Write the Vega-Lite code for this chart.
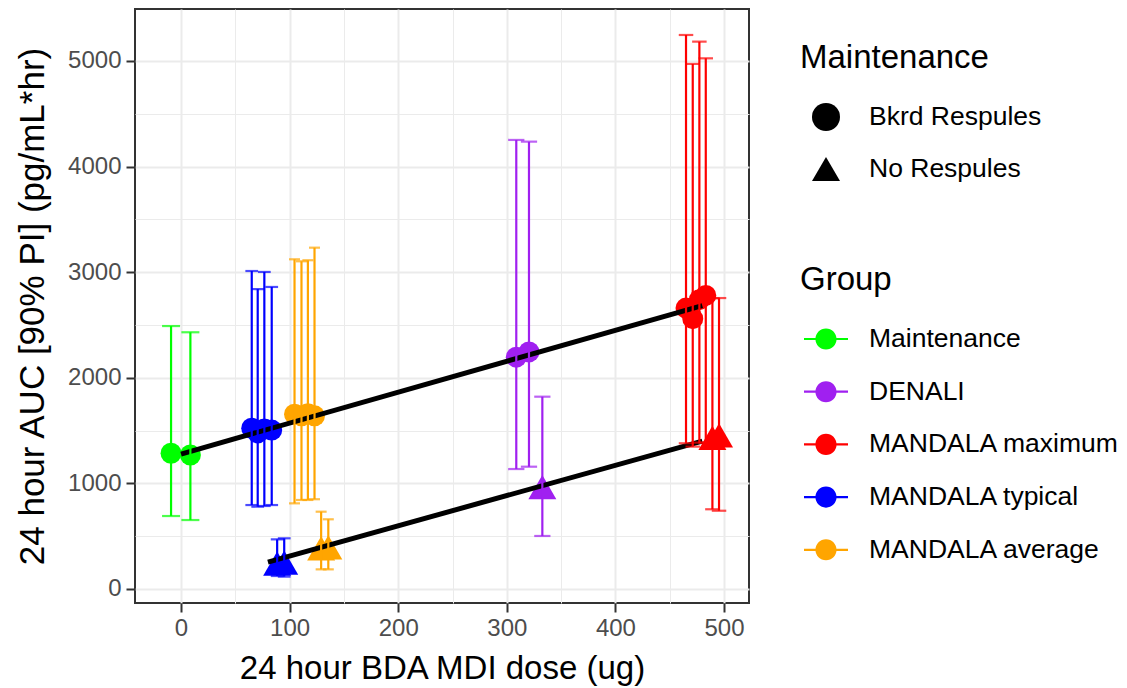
{
  "$schema": "https://vega.github.io/schema/vega-lite/v6.json",
  "width": 614,
  "height": 594,
  "autosize": "none",
  "padding": {"left": 135, "top": 9, "right": 378, "bottom": 85},
  "background": "white",
  "config": {
    "font": "Liberation Sans",
    "view": {"stroke": "#333333", "strokeWidth": 2},
    "axis": {
      "domain": false,
      "grid": true,
      "gridColor": "#EBEBEB",
      "tickColor": "#333333",
      "tickWidth": 2,
      "tickSize": 9,
      "labelColor": "#4D4D4D",
      "labelFontSize": 24,
      "titleFontWeight": "normal",
      "titleColor": "black"
    },
    "legend": {
      "titleFontSize": 33,
      "titleFontWeight": "normal",
      "titleColor": "black",
      "titleLimit": 0,
      "labelFontSize": 26.5,
      "labelColor": "black",
      "labelLimit": 0,
      "padding": 0
    }
  },
  "datasets": {
    "pts": [
      {"group": "Maintenance", "maint": "Bkrd Respules", "dose": -9.2, "auc": 1285, "lo": 691, "hi": 2490},
      {"group": "Maintenance", "maint": "Bkrd Respules", "dose": 8.6, "auc": 1269, "lo": 653, "hi": 2431},
      {"group": "MANDALA typical", "maint": "Bkrd Respules", "dose": 65.1, "auc": 1522, "lo": 795, "hi": 3011},
      {"group": "MANDALA typical", "maint": "Bkrd Respules", "dose": 70.6, "auc": 1478, "lo": 779, "hi": 2840},
      {"group": "MANDALA typical", "maint": "Bkrd Respules", "dose": 76.7, "auc": 1515, "lo": 786, "hi": 3002},
      {"group": "MANDALA typical", "maint": "Bkrd Respules", "dose": 83.5, "auc": 1505, "lo": 795, "hi": 2860},
      {"group": "MANDALA typical", "maint": "No Respules", "dose": 88.5, "auc": 240, "lo": 123, "hi": 470},
      {"group": "MANDALA typical", "maint": "No Respules", "dose": 95.0, "auc": 250, "lo": 117, "hi": 480},
      {"group": "MANDALA average", "maint": "Bkrd Respules", "dose": 104.5, "auc": 1655, "lo": 811, "hi": 3122},
      {"group": "MANDALA average", "maint": "Bkrd Respules", "dose": 110.9, "auc": 1640, "lo": 843, "hi": 3103},
      {"group": "MANDALA average", "maint": "Bkrd Respules", "dose": 116.8, "auc": 1660, "lo": 843, "hi": 3113},
      {"group": "MANDALA average", "maint": "Bkrd Respules", "dose": 122.9, "auc": 1640, "lo": 850, "hi": 3232},
      {"group": "MANDALA average", "maint": "No Respules", "dose": 129.0, "auc": 385, "lo": 186, "hi": 732},
      {"group": "MANDALA average", "maint": "No Respules", "dose": 135.6, "auc": 395, "lo": 186, "hi": 660},
      {"group": "DENALI", "maint": "Bkrd Respules", "dose": 308.7, "auc": 2195, "lo": 1136, "hi": 4252},
      {"group": "DENALI", "maint": "Bkrd Respules", "dose": 320.4, "auc": 2245, "lo": 1158, "hi": 4236},
      {"group": "DENALI", "maint": "No Respules", "dose": 332.7, "auc": 965, "lo": 502, "hi": 1821},
      {"group": "MANDALA maximum", "maint": "Bkrd Respules", "dose": 465.0, "auc": 2660, "lo": 1380, "hi": 5246},
      {"group": "MANDALA maximum", "maint": "Bkrd Respules", "dose": 471.2, "auc": 2560, "lo": 1348, "hi": 4972},
      {"group": "MANDALA maximum", "maint": "Bkrd Respules", "dose": 477.3, "auc": 2740, "lo": 1386, "hi": 5183},
      {"group": "MANDALA maximum", "maint": "Bkrd Respules", "dose": 483.2, "auc": 2780, "lo": 1386, "hi": 5025},
      {"group": "MANDALA maximum", "maint": "No Respules", "dose": 489.3, "auc": 1430, "lo": 755, "hi": 2753},
      {"group": "MANDALA maximum", "maint": "No Respules", "dose": 495.4, "auc": 1455, "lo": 741, "hi": 2755}
    ],
    "fit": [
      {"maint": "Bkrd Respules", "dose": 0, "auc": 1278},
      {"maint": "Bkrd Respules", "dose": 480, "auc": 2684},
      {"maint": "No Respules", "dose": 80, "auc": 255},
      {"maint": "No Respules", "dose": 480, "auc": 1400}
    ]
  },
  "resolve": {"scale": {"size": "independent"}},
  "layer": [
    {
      "data": {"name": "pts"},
      "mark": {"type": "point", "filled": true, "opacity": 1},
      "encoding": {
        "x": {
          "field": "dose", "type": "quantitative",
          "scale": {"domain": [-42.4, 523], "nice": false, "zero": false},
          "axis": {
            "title": "24 hour BDA MDI dose (ug)",
            "titleFontSize": 33,
            "values": [0, 50, 100, 150, 200, 250, 300, 350, 400, 450, 500],
            "format": "d",
            "labelExpr": "datum.value % 100 === 0 ? datum.label : ''",
            "gridWidth": {"condition": {"test": "datum.value % 100 === 0", "value": 2}, "value": 1},
            "tickOpacity": {"condition": {"test": "datum.value % 100 === 0", "value": 1}, "value": 0},
            "labelPadding": 4,
            "titlePadding": 12
          }
        },
        "y": {
          "field": "auc", "type": "quantitative",
          "scale": {"domain": [-132.6, 5492], "nice": false, "zero": false},
          "axis": {
            "title": "24 hour AUC [90% PI] (pg/mL*hr)",
            "titleFontSize": 35,
            "values": [0, 500, 1000, 1500, 2000, 2500, 3000, 3500, 4000, 4500, 5000],
            "format": "d",
            "labelExpr": "datum.value % 1000 === 0 ? datum.label : ''",
            "gridWidth": {"condition": {"test": "datum.value % 1000 === 0", "value": 2}, "value": 1},
            "tickOpacity": {"condition": {"test": "datum.value % 1000 === 0", "value": 1}, "value": 0},
            "labelPadding": 5,
            "titlePadding": 17
          }
        },
        "color": {
          "field": "group", "type": "nominal",
          "scale": {
            "domain": ["Maintenance", "DENALI", "MANDALA maximum", "MANDALA typical", "MANDALA average"],
            "range": ["#00FF00", "#A020F0", "#FF0000", "#0000FF", "#FFA500"]
          },
          "legend": {
            "title": "Group",
            "orient": "none",
            "legendX": 665,
            "legendY": 255,
            "symbolType": "M-1,-0.05H-0.4V0.05H-1Z M0.4,-0.05H1V0.05H0.4Z M-0.48,0A0.48,0.48 0 1,1 0.48,0A0.48,0.48 0 1,1 -0.48,0Z",
            "symbolSize": 1936,
            "symbolStrokeWidth": 0,
            "symbolOffset": 4,
            "labelOffset": 21,
            "titlePadding": 20,
            "rowPadding": 16.7
          }
        },
        "shape": {
          "field": "maint", "type": "nominal",
          "scale": {"domain": ["Bkrd Respules", "No Respules"], "range": ["circle", "triangle-up"]},
          "legend": {
            "title": "Maintenance",
            "orient": "none",
            "legendX": 665,
            "legendY": 33,
            "symbolFillColor": "black",
            "symbolStrokeWidth": 0,
            "symbolSize": 784,
            "symbolOffset": 12,
            "labelOffset": 29,
            "titlePadding": 28,
            "rowPadding": 24,
            "encode": {
              "symbols": {
                "update": {
                  "size": {"signal": "datum.value === 'Bkrd Respules' ? 441 : 784"},
                  "fill": {"value": "black"}
                }
              }
            }
          }
        },
        "size": {
          "field": "maint", "type": "nominal",
          "scale": {"domain": ["Bkrd Respules", "No Respules"], "range": [441, 784]},
          "legend": null
        }
      }
    },
    {
      "data": {"name": "fit"},
      "mark": {"type": "line", "color": "black", "strokeWidth": 5},
      "encoding": {
        "x": {"field": "dose", "type": "quantitative", "scale": {"domain": [-42.4, 523], "nice": false, "zero": false}},
        "y": {"field": "auc", "type": "quantitative", "scale": {"domain": [-132.6, 5492], "nice": false, "zero": false}},
        "detail": {"field": "maint", "type": "nominal"}
      }
    },
    {
      "data": {"name": "pts"},
      "mark": {"type": "rule", "strokeWidth": 2.2},
      "encoding": {
        "x": {"field": "dose", "type": "quantitative", "scale": {"domain": [-42.4, 523], "nice": false, "zero": false}},
        "y": {"field": "lo", "type": "quantitative", "scale": {"domain": [-132.6, 5492], "nice": false, "zero": false}},
        "y2": {"field": "hi"},
        "color": {"field": "group", "type": "nominal"}
      }
    },
    {
      "data": {"name": "pts"},
      "transform": [{"fold": ["lo", "hi"], "as": ["bound", "v"]}],
      "mark": {"type": "tick", "orient": "horizontal", "thickness": 2.2},
      "encoding": {
        "x": {"field": "dose", "type": "quantitative", "scale": {"domain": [-42.4, 523], "nice": false, "zero": false}},
        "y": {"field": "v", "type": "quantitative", "scale": {"domain": [-132.6, 5492], "nice": false, "zero": false}},
        "color": {"field": "group", "type": "nominal"},
        "size": {
          "field": "group", "type": "nominal",
          "scale": {
            "domain": ["Maintenance", "DENALI", "MANDALA maximum", "MANDALA typical", "MANDALA average"],
            "range": [18, 11, 5, 5, 5]
          },
          "legend": null
        }
      }
    }
  ]
}
